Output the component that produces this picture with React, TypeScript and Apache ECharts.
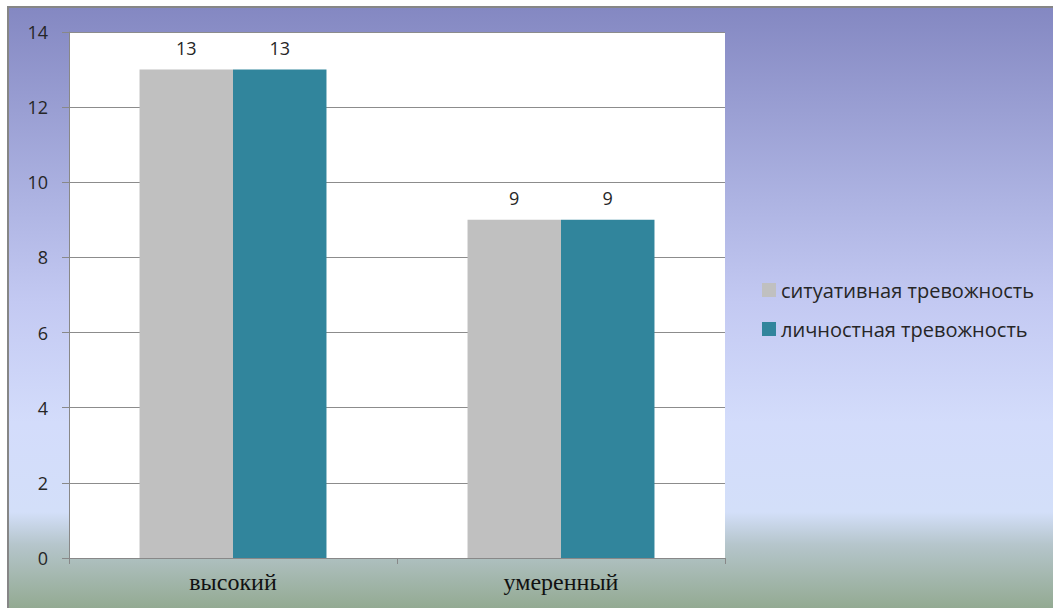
import React, { useEffect, useRef } from "react";
import * as echarts from "echarts";

const categories = ["высокий", "умеренный"];
const situational = [13, 9];
const personal = [13, 9];
const seriesNames = ["ситуативная тревожность", "личностная тревожность"];
const yTicks = { min: 0, max: 14, interval: 2 };

const sansFont = "'Open Sans', 'Noto Sans', sans-serif";

export default function App() {
  const ref = useRef<HTMLDivElement>(null);

  useEffect(() => {
    if (!ref.current) return;
    const chart = echarts.init(ref.current, undefined, { renderer: "svg" });
    const labelStyle = {
      show: true,
      position: "top" as const,
      distance: 13,
      fontFamily: sansFont,
      fontSize: 18,
      color: "#262626",
    };
    chart.setOption({
      animation: false,
      backgroundColor: {
        type: "linear",
        x: 0,
        y: 0,
        x2: 0,
        y2: 1,
        colorStops: [
          { offset: 0, color: "#8488c2" },
          { offset: 0.32, color: "#adb3e2" },
          { offset: 0.49, color: "#c3c9f2" },
          { offset: 0.69, color: "#d3dcfb" },
          { offset: 0.84, color: "#d3dff9" },
          { offset: 0.895, color: "#b5c5cb" },
          { offset: 1, color: "#93aa92" },
        ],
      },
      grid: {
        left: 60,
        top: 24,
        width: 656,
        height: 526,
        show: true,
        backgroundColor: "#ffffff",
        borderWidth: 0,
      },
      legend: {
        orient: "vertical",
        left: 748,
        top: 267,
        itemWidth: 14,
        itemHeight: 14,
        itemGap: 19,
        icon: "rect",
        data: seriesNames,
        textStyle: { fontFamily: sansFont, fontSize: 20, color: "#262626" },
      },
      xAxis: {
        type: "category",
        data: categories,
        axisLine: { show: true, lineStyle: { color: "#888888", width: 1 } },
        axisTick: { show: true, length: 6, lineStyle: { color: "#888888" } },
        axisLabel: {
          margin: 12,
          fontFamily: "'Liberation Serif', 'DejaVu Serif', serif",
          fontSize: 24,
          color: "#111111",
        },
        splitLine: { show: false },
      },
      yAxis: {
        type: "value",
        min: yTicks.min,
        max: yTicks.max,
        interval: yTicks.interval,
        axisLine: { show: true, lineStyle: { color: "#888888", width: 1 } },
        axisTick: { show: true, length: 7, lineStyle: { color: "#888888" } },
        axisLabel: {
          margin: 21,
          fontFamily: sansFont,
          fontSize: 18,
          color: "#262626",
        },
        splitLine: { show: true, lineStyle: { color: "#8c8c8c", width: 1 } },
      },
      series: [
        {
          name: seriesNames[0],
          type: "bar",
          data: situational,
          barGap: "0%",
          barCategoryGap: "43%",
          itemStyle: { color: "#c0c0c0" },
          label: labelStyle,
        },
        {
          name: seriesNames[1],
          type: "bar",
          data: personal,
          barGap: "0%",
          barCategoryGap: "43%",
          itemStyle: { color: "#31859c" },
          label: labelStyle,
        },
      ],
    });
    return () => chart.dispose();
  }, []);

  return (
    <div
      style={{
        position: "absolute",
        left: 0,
        top: 0,
        width: 1053,
        height: 608,
        overflow: "hidden",
        background: "#ffffff",
      }}
    >
      <div
        style={{
          position: "absolute",
          left: 7,
          top: 6,
          width: 1060,
          height: 620,
          borderTop: "2px solid #868686",
          borderLeft: "2px solid #868686",
        }}
      />
      <div
        ref={ref}
        style={{ position: "absolute", left: 9, top: 8, width: 1044, height: 600 }}
      />
    </div>
  );
}
